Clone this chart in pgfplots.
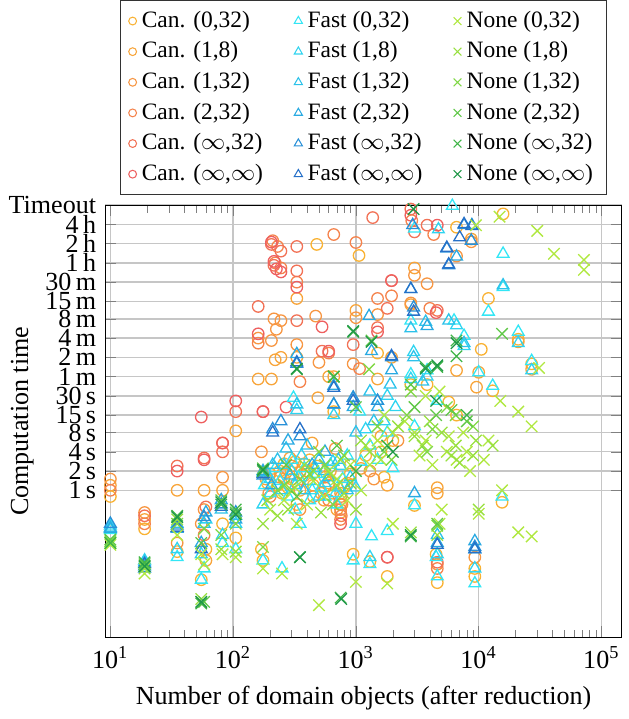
\documentclass[border=0pt]{standalone}
\usepackage{fontspec}
\setmainfont{Liberation Serif}
\usepackage{pgfplots}
\pgfplotsset{compat=1.18}
\definecolor{c1}{HTML}{F9B233}
\definecolor{c2}{HTML}{F8A53A}
\definecolor{c3}{HTML}{F79642}
\definecolor{c4}{HTML}{F5834C}
\definecolor{c5}{HTML}{F27256}
\definecolor{c6}{HTML}{EE6060}
\definecolor{f1}{HTML}{33E6F5}
\definecolor{f2}{HTML}{2FD4F0}
\definecolor{f3}{HTML}{2CC2EA}
\definecolor{f4}{HTML}{2AAAE2}
\definecolor{f5}{HTML}{2890D8}
\definecolor{f6}{HTML}{2670C8}
\definecolor{n1}{HTML}{B0E840}
\definecolor{n2}{HTML}{98E040}
\definecolor{n3}{HTML}{80D845}
\definecolor{n4}{HTML}{60C848}
\definecolor{n5}{HTML}{40B548}
\definecolor{n6}{HTML}{209848}
\pgfplotsset{
  can/.style={only marks, mark=o, mark size=2.2pt, line width=0.5pt, color=#1},
  fast/.style={only marks, mark=triangle, mark size=2.6pt, line width=0.5pt, color=#1},
  none/.style={only marks, mark=x, mark size=3.1pt, line width=0.5pt, color=#1},
  lcan/.style={only marks, mark=o, mark size=1.5pt, color=#1},
  lfast/.style={only marks, mark=triangle, mark size=1.8pt, color=#1},
  lnone/.style={only marks, mark=x, mark size=2.1pt, color=#1},
}
\begin{document}
\begin{tikzpicture}
\begin{axis}[
  width=198pt, height=165.8pt, scale only axis,
  xmode=log, ymode=log,
  xmin=9.1, xmax=146000,
  ymin=0.005, ymax=28800,
  xtick={10,100,1000,10000,100000},
  xticklabels={10\textsuperscript{1},10\textsuperscript{2},10\textsuperscript{3},10\textsuperscript{4},10\textsuperscript{5}},
  ytick={1,2,4,8,15,30,60,120,240,480,900,1800,3600,7200,14400,28800},
  yticklabels={1\,s,2\,s,4\,s,8\,s,15\,s,30\,s,1\,m,2\,m,4\,m,8\,m,15\,m,30\,m,1\,h,2\,h,4\,h,Timeout},
  yminorticks=false,
  xmajorgrids, ymajorgrids,
  major grid style={gray!45, line width=0.5pt},
  xlabel={Number of domain objects (after reduction)},
  ylabel={Computation time},
  ylabel style={at={(axis description cs:-0.121,0.5)}, anchor=south},
  legend columns=3,
  legend style={at={(0.5,1)}, anchor=south, yshift=3.8pt, draw=black!80, font=\small,
    /tikz/every even column/.append style={column sep=10pt}},
  legend image code/.code={\draw[#1] plot coordinates {(0.1cm,0cm)};},
  legend cell align=left,
]
\addlegendimage{lcan=c1}\addlegendentry{Can. (0,32)}
\addlegendimage{lfast=f1}\addlegendentry{Fast (0,32)}
\addlegendimage{lnone=n1}\addlegendentry{None (0,32)}
\addlegendimage{lcan=c2}\addlegendentry{Can. (1,8)}
\addlegendimage{lfast=f2}\addlegendentry{Fast (1,8)}
\addlegendimage{lnone=n2}\addlegendentry{None (1,8)}
\addlegendimage{lcan=c3}\addlegendentry{Can. (1,32)}
\addlegendimage{lfast=f3}\addlegendentry{Fast (1,32)}
\addlegendimage{lnone=n3}\addlegendentry{None (1,32)}
\addlegendimage{lcan=c4}\addlegendentry{Can. (2,32)}
\addlegendimage{lfast=f4}\addlegendentry{Fast (2,32)}
\addlegendimage{lnone=n4}\addlegendentry{None (2,32)}
\addlegendimage{lcan=c5}\addlegendentry{Can. ($\infty$,32)}
\addlegendimage{lfast=f5}\addlegendentry{Fast ($\infty$,32)}
\addlegendimage{lnone=n5}\addlegendentry{None ($\infty$,32)}
\addlegendimage{lcan=c6}\addlegendentry{Can. ($\infty$,$\infty$)}
\addlegendimage{lfast=f6}\addlegendentry{Fast ($\infty$,$\infty$)}
\addlegendimage{lnone=n6}\addlegendentry{None ($\infty$,$\infty$)}
% Can. (0,32)
\addplot[can=c1, forget plot] table {
x y
10 0.8
19 0.25
35 0.11
55 0.04
60 0.12
82 0.3
105 0.18
170 0.12
175 0.08
180 1.9
190 1.3
200 1.8
230 1.2
240 2.0
250 0.9
260 2.6
280 1.1
300 1.5
320 2.8
330 0.6
350 1.9
380 1.7
420 3.0
450 1.2
480 2.4
480 7000
520 0.9
560 1.6
600 1.3
650 0.9
660 17
750 0.45
800 1.1
900 1.8
950 0.1
1060 4700
1200 3.5
1300 0.077
1500 140
1600 4
1700 1.6
1800 0.045
2000 6
2800 45
3000 0.58
3800 45
4500 0.1
4600 0.036
5700 24
6600 13000
6600 15
9300 0.045
9300 0.06
10500 160
12000 1000
13000 36
15500 0.65
15800 21000
21000 230
27000 95
};
% Can. (1,8)
\addplot[can=c2, forget plot] table {
x y
10 1.2
19 0.35
35 1.0
58 1.0
60 0.08
82 1.0
105 8.5
160 55
185 1.5
205 55
210 2.2
220 110
245 120
260 1.5
270 1.9
290 3.2
330 1000
330 120
350 1.0
380 2.6
440 5.5
490 28
550 0.7
600 60
620 2.0
660 60
700 0.5
750 0.9
850 1.3
900 2.5
1000 650
1100 2.2
1500 55
1600 7
1800 1.2
1950 120
2800 800
3000 3000
4600 1.1
4600 0.9
6600 75
8700 8500
9600 41
10000 70
21000 210
27000 78
};
% Can. (1,32)
\addplot[can=c3, forget plot] table {
x y
10 1.5
19 0.45
35 0.15
55 0.3
58 0.5
82 1.6
160 240
170 4.0
195 0.9
205 220
215 480
225 330
240 1.6
245 450
300 2.4
330 190
350 0.5
400 2.0
450 0.8
470 530
500 100
600 1.2
680 4.5
750 0.6
760 0.8
770 0.6
950 95
1000 500
1300 2.0
1400 1.5
1500 560
2200 6
2800 850
3000 2300
3800 1700
4600 0.07
6600 4600
8700 7700
9300 0.09
};
% Can. (2,32)
\addplot[can=c4, forget plot] table {
x y
10 1.0
19 0.3
58 0.2
82 5.5
160 200
200 0.8
210 8000
220 3600
230 6500
245 3000
330 1800
330 1.3
350 50
560 1.1
600 140
600 0.7
660 10000
750 0.35
750 0.5
760 0.4
1000 7500
1070 80
1500 1000
1950 1100
2850 16500
4000 700
4300 10000
4600 0.06
};
% Can. (inf,32)
\addplot[can=c5, forget plot] table {
x y
19 0.4
35 2.4
58 3.2
60 0.55
82 4.0
105 17
160 750
175 17
205 7000
215 3300
245 5500
330 6500
330 2700
330 450
530 150
950 190
1370 18400
1500 350
1800 700
1950 1900
2800 25000
3000 11000
3800 14000
4600 650
1800 0.09
4600 0.075
};
% Can. (inf,inf)
\addplot[can=c6, forget plot] table {
x y
35 2.0
55 14
58 3.0
82 5.5
105 25
160 280
175 17
205 7600
215 3800
225 2900
245 2600
270 20
330 1500
530 360
600 150
1500 300
1950 1900
2800 20000
4600 14000
4500 600
1800 0.09
750 0.3
};
% Fast (0,32)
\addplot[fast=f1, forget plot] table {
x y
10 0.24
19 0.07
35 0.09
55 0.04
58 0.06
82 0.15
105 0.12
175 0.08
180 1.2
200 0.9
220 2.2
240 1.4
250 0.06
280 0.8
300 3.0
320 0.5
310 28
340 1.6
350 0.3
380 2.2
420 0.7
440 1.0
480 1.8
520 1.1
560 0.8
620 2.5
680 0.9
700 0.6
780 1.5
850 3.5
950 0.08
1000 0.3
1070 17
1100 2.8
1300 0.07
1300 5
1340 0.19
1500 3
1800 0.23
1800 8
2000 2.2
2800 65
2800 450
3000 12400
3000 0.58
3000 10
3800 75
4500 0.09
4600 0.045
4600 25
6100 28000
6300 450
7600 260
9300 0.035
10000 70
12000 620
13000 43
15800 5000
15800 1500
21000 300
27000 105
15500 0.8
};
% Fast (1,8)
\addplot[fast=f2, forget plot] table {
x y
10 0.28
19 0.08
35 0.12
55 0.1
60 0.35
82 0.2
105 0.3
175 0.6
190 1.8
200 1.5
250 1.0
260 2.5
300 2.0
320 1.2
330 18
360 3.5
420 1.4
470 2.2
500 0.8
560 1.3
650 2.8
660 15
740 1.1
750 2.4
900 1.6
1000 1.1
1200 9
1300 0.09
1700 12
1800 30
2100 20
2800 55
2950 145
3800 60
4600 0.1
6600 380
7600 180
9300 0.06
21000 200
27000 75
4700 12000
};
% Fast (1,32)
\addplot[fast=f3, forget plot] table {
x y
10 0.26
19 0.075
35 0.3
58 0.3
80 0.5
105 0.4
175 1.9
210 2.5
230 3.0
270 4.5
290 1.7
330 22
380 1.0
400 5.0
500 3.0
550 2.0
600 1.6
660 22
720 3.0
850 1.0
950 28
1000 8
1300 35
1400 12
1500 25
1900 45
2800 340
2950 120
3500 50
3700 430
4600 0.2
5700 450
7600 200
9300 0.12
15800 1600
};
% Fast (2,32)
\addplot[fast=f4, forget plot] table {
x y
10 0.25
19 0.065
35 0.25
55 0.15
60 0.45
80 0.7
105 0.35
175 2.0
205 1.2
280 6
330 135
440 2.5
560 4
660 43
950 20
1280 530
1340 150
1500 20
1950 75
2800 1400
3000 0.9
3800 370
4600 0.15
6600 4500
8800 14000
9300 0.16
};
% Fast (inf,32)
\addplot[fast=f5, forget plot] table {
x y
10 0.3
19 0.06
35 0.28
58 0.38
80 0.6
105 0.45
175 1.7
210 9
245 12
330 95
350 7
660 22
950 28
1500 25
1950 120
2950 720
2900 14000
5500 6000
5700 3300
7600 14000
8700 8000
9300 0.13
};
% Fast (inf,inf)
\addplot[fast=f6, forget plot] table {
x y
19 0.07
35 0.26
55 0.12
80 0.55
175 1.8
210 8
330 100
350 9
660 40
950 25
1950 125
2800 1400
2950 620
5500 6200
5700 3400
7600 14500
8800 13500
7000 9000
4600 0.14
9300 0.12
};
% None (0,32)
\addplot[none=n1, forget plot] table {
x y
10 0.14
19 0.05
35 0.2
55 0.1
58 0.07
82 0.1
105 0.09
175 0.06
200 0.5
250 0.05
260 0.7
320 1.1
330 0.3
400 0.6
450 1.4
500 0.016
550 0.8
600 2.0
700 1.5
750 3
850 0.7
900 2.5
1000 0.037
1100 1.0
1200 5
1300 2.5
1500 6
1600 3
1700 15
1800 0.035
2000 0.3
2000 8
2500 12
3000 8
3300 3.5
3700 6
3700 30
4200 2.5
4800 35
5500 4
5700 7
6600 3
7500 8
8000 4
8500 2
9500 14000
10000 0.43
11000 3
12000 6
14800 19000
15000 25
15500 1.0
21000 17
21000 0.22
27000 10
27000 0.19
30000 11400
31000 82
41000 5000
72000 4000
72000 2800
5000 0.5
4800 0.3
};
% None (1,8)
\addplot[none=n2, forget plot] table {
x y
10 0.15
19 0.06
35 0.35
55 0.02
80 0.12
105 0.11
175 0.3
190 0.7
230 0.4
280 0.5
300 1.0
380 2.5
450 2
520 0.45
620 1.8
700 1.2
800 0.9
1000 0.5
1100 6
1300 4
2200 10
2800 0.22
3000 7
3500 5
4000 12
4600 0.2
5000 8
6000 3.5
6500 5
7000 2.7
9000 3.5
9500 6
10000 0.5
13000 5
};
% None (1,32)
\addplot[none=n3, forget plot] table {
x y
10 0.16
19 0.065
35 0.3
58 0.25
80 0.2
105 0.3
175 0.13
230 1.0
260 1.2
350 1.5
420 1.8
500 4
560 2.5
650 0.6
800 3.5
900 1.3
1280 78
1500 10
1700 4
1950 3
2600 15
2800 35
3800 4
4200 9
4600 0.28
5500 20
6500 15
9000 10
};
% None (2,32)
\addplot[none=n4, forget plot] table {
x y
10 0.17
19 0.07
55 0.15
58 0.018
80 0.7
105 0.45
175 2.2
270 2.5
330 0.8
660 60
700 5
1000 20
1340 220
2800 45
3000 20
4500 15
4600 0.3
6000 18
8000 12
15500 280
};
% None (inf,32)
\addplot[none=n5, forget plot] table {
x y
10 0.15
19 0.075
35 0.4
55 0.017
80 0.6
105 0.5
175 2.0
330 78
350 0.09
660 60
750 0.021
950 300
1000 2
1800 5
2800 0.19
3700 85
4600 85
6600 220
6600 125
8000 15
};
% None (inf,inf)
\addplot[none=n6, forget plot] table {
x y
19 0.065
35 0.38
55 0.018
80 0.65
105 0.42
175 2.1
330 80
350 0.09
760 0.02
950 310
1340 210
2800 0.2
2950 25000
3700 80
4600 90
6600 200
4500 25
2000 4
};
\end{axis}
\end{tikzpicture}
\end{document}
